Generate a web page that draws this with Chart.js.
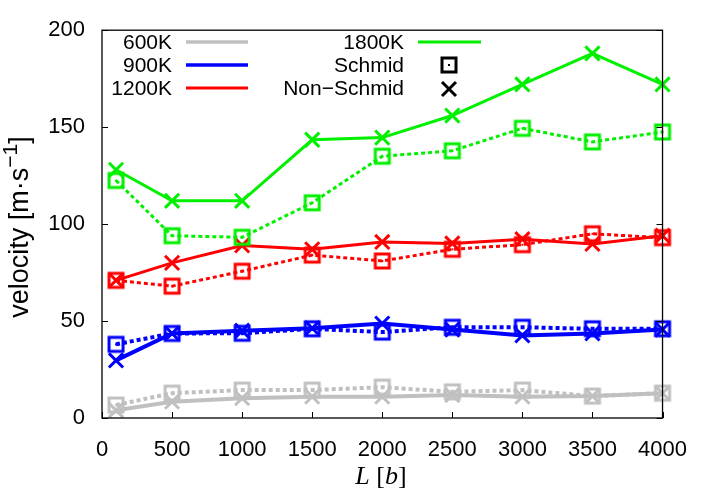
<!DOCTYPE html>
<html>
<head>
<meta charset="utf-8">
<script src="https://cdn.jsdelivr.net/npm/chart.js@4.4.1/dist/chart.umd.min.js"></script>
<style>
  html, body { margin: 0; padding: 0; background: #fff; }
  #c { display: block; }
</style>
</head>
<body>
<canvas id="c" width="706" height="494" style="width:706px;height:494px"></canvas>
<script>
(function () {
  "use strict";

  // ---- data ----
  var L = [100, 500, 1000, 1500, 2000, 2500, 3000, 3500, 4000];
  var V600_SCHMID  = [6.7, 12.8, 14.4, 14.4, 15.9, 13.5, 14.4, 11.3, 12.8];
  var V600_NON     = [4.0, 8.4, 10.2, 11.0, 11.0, 11.8, 11.0, 11.3, 12.8];
  var V900_SCHMID  = [38.0, 43.6, 43.7, 46.0, 44.3, 46.8, 46.8, 46.0, 46.0];
  var V900_NON     = [29.7, 43.6, 45.0, 46.3, 48.7, 45.6, 42.6, 43.6, 45.6];
  var V1200_SCHMID = [71.0, 68.0, 75.7, 84.0, 81.0, 87.0, 89.4, 95.0, 93.0];
  var V1200_NON    = [71.0, 80.0, 89.0, 87.0, 90.8, 90.0, 92.2, 89.8, 94.0];
  var V1800_SCHMID = [122.5, 94.0, 93.2, 111.0, 135.0, 137.8, 149.4, 142.4, 147.5];
  var V1800_NON    = [128.0, 112.0, 112.0, 143.5, 144.6, 156.0, 172.0, 188.0, 172.0];

  var X_TICKS = [0, 500, 1000, 1500, 2000, 2500, 3000, 3500, 4000];
  var Y_TICKS = [0, 50, 100, 150, 200];

  var GRAY = "#c0c0c0", BLUE = "#0000ff", RED = "#ff0000", GREEN = "#00f000";
  var SANS = "'Liberation Sans', Arial, Helvetica, sans-serif";
  var SERIF = "'Liberation Serif', 'Times New Roman', serif";

  function pts(ys) { return ys.map(function (v, i) { return { x: L[i], y: v }; }); }

  // open square with a dot in the middle (gnuplot style)
  function boxDot(color) {
    var c = document.createElement("canvas");
    c.width = 20; c.height = 20;
    var g = c.getContext("2d");
    g.strokeStyle = color; g.lineWidth = 3;
    g.strokeRect(3, 3, 14, 14);
    g.fillStyle = color; g.fillRect(9, 9, 2, 2);
    return c;
  }

  function schmid(label, ys, color, lw) {
    return {
      label: label, data: pts(ys), borderColor: color, backgroundColor: color,
      borderWidth: lw, borderDash: [4, 3], pointStyle: boxDot(color),
      pointRadius: 9, tension: 0, clip: false
    };
  }
  function nonSchmid(label, ys, color, lw) {
    return {
      label: label, data: pts(ys), borderColor: color, backgroundColor: color,
      borderWidth: lw, pointStyle: "crossRot", pointRadius: 10,
      pointBorderWidth: 3, tension: 0, clip: false
    };
  }

  // drawn first = on top in Chart.js, so green goes first
  var datasets = [
    nonSchmid("1800K non", V1800_NON, GREEN, 3),
    schmid("1800K schmid", V1800_SCHMID, GREEN, 3),
    nonSchmid("1200K non", V1200_NON, RED, 3),
    schmid("1200K schmid", V1200_SCHMID, RED, 3),
    nonSchmid("900K non", V900_NON, BLUE, 4),
    schmid("900K schmid", V900_SCHMID, BLUE, 4),
    nonSchmid("600K non", V600_NON, GRAY, 4),
    schmid("600K schmid", V600_SCHMID, GRAY, 4)
  ];

  /* frame, inward ticks, axis titles and key */
  var decor = {
    id: "decor",
    afterDatasetsDraw: function (chart) {
      var a = chart.chartArea, ctx = chart.ctx;
      var sx = chart.scales.x, sy = chart.scales.y;
      ctx.save();
      ctx.strokeStyle = "#000";
      ctx.lineWidth = 1.3;
      ctx.strokeRect(a.left, a.top, a.right - a.left, a.bottom - a.top);
      ctx.lineWidth = 1;
      ctx.beginPath();
      X_TICKS.forEach(function (v) {
        var px = Math.round(sx.getPixelForValue(v)) + 0.5;
        ctx.moveTo(px, a.bottom); ctx.lineTo(px, a.bottom - 6);
      });
      Y_TICKS.forEach(function (v) {
        var py = Math.round(sy.getPixelForValue(v)) + 0.5;
        ctx.moveTo(a.left, py); ctx.lineTo(a.left + 6, py);
        ctx.moveTo(a.right, py); ctx.lineTo(a.right - 6, py);
      });
      ctx.stroke();
      ctx.restore();
    },
    afterDraw: function (chart) {
      var ctx = chart.ctx;
      ctx.save();
      ctx.fillStyle = "#000";

      // y title with superscript
      ctx.translate(21, 227);
      ctx.rotate(-Math.PI / 2);
      var f1 = "27px " + SANS, f2 = "21px " + SANS;
      ctx.font = f1; var w1 = ctx.measureText("velocity [m\u00b7s").width;
      ctx.font = f2; var w2 = ctx.measureText("\u22121").width;
      ctx.font = f1; var w3 = ctx.measureText("]").width;
      var s = -(w1 + w2 + w3) / 2;
      ctx.textBaseline = "alphabetic";
      ctx.textAlign = "left";
      ctx.fillText("velocity [m\u00b7s", s, 7);
      ctx.font = f2; ctx.fillText("\u22121", s + w1, -4);
      ctx.font = f1; ctx.fillText("]", s + w1 + w2, 7);
      ctx.setTransform(1, 0, 0, 1, 0, 0);

      // x title: italic L and b, upright brackets
      var parts = [["L", "italic 26px " + SERIF], [" [", "26px " + SERIF], ["b", "italic 26px " + SERIF], ["]", "26px " + SERIF]];
      var tot = 0;
      parts.forEach(function (p) { ctx.font = p[1]; p.push(ctx.measureText(p[0]).width); tot += p[2]; });
      var x = 381 - tot / 2;
      parts.forEach(function (p) { ctx.font = p[1]; ctx.fillText(p[0], x, 484); x += p[2]; });

      // key
      ctx.font = "21px " + SANS;
      ctx.textAlign = "right";
      ctx.textBaseline = "middle";
      var rows = [
        [172, 42, "600K", GRAY, 3.5, 186, 248],
        [172, 65, "900K", BLUE, 3.5, 186, 248],
        [172, 88, "1200K", RED, 3, 186, 248],
        [404, 42, "1800K", GREEN, 3, 418, 481]
      ];
      rows.forEach(function (r) {
        ctx.fillText(r[2], r[0], r[1] + 1);
        ctx.strokeStyle = r[3]; ctx.lineWidth = r[4];
        ctx.beginPath(); ctx.moveTo(r[5], r[1]); ctx.lineTo(r[6], r[1]); ctx.stroke();
      });
      ctx.fillText("Schmid", 404, 66);
      ctx.fillText("Non\u2212Schmid", 404, 89);
      ctx.drawImage(boxDot("#000"), 449 - 10, 65 - 10);
      ctx.strokeStyle = "#000"; ctx.lineWidth = 3;
      ctx.beginPath();
      ctx.moveTo(449 - 7, 89 - 7); ctx.lineTo(449 + 7, 89 + 7);
      ctx.moveTo(449 + 7, 89 - 7); ctx.lineTo(449 - 7, 89 + 7);
      ctx.stroke();
      ctx.restore();
    }
  };

  new Chart(document.getElementById("c"), {
    type: "line",
    data: { datasets: datasets },
    options: {
      responsive: false,
      animation: false,
      events: [],
      layout: { padding: { left: 0, right: 37, top: 29, bottom: 0 } },
      plugins: { legend: { display: false }, tooltip: { enabled: false } },
      scales: {
        x: {
          type: "linear", min: 0, max: 4000,
          grid: { display: false, drawTicks: false }, border: { display: false },
          afterBuildTicks: function (s) { s.ticks = X_TICKS.map(function (v) { return { value: v }; }); },
          afterFit: function (s) { s.height = 76; },
          ticks: { color: "#000", font: { family: SANS, size: 22 }, padding: 19, maxRotation: 0,
                   callback: function (v) { return String(v); } }
        },
        y: {
          type: "linear", min: 0, max: 200,
          grid: { display: false, drawTicks: false }, border: { display: false },
          afterBuildTicks: function (s) { s.ticks = Y_TICKS.map(function (v) { return { value: v }; }); },
          afterFit: function (s) { s.width = 102; },
          ticks: { color: "#000", font: { family: SANS, size: 22 }, padding: 17,
                   callback: function (v) { return String(v); } }
        }
      }
    },
    plugins: [decor]
  });
})();
</script>
</body>
</html>
